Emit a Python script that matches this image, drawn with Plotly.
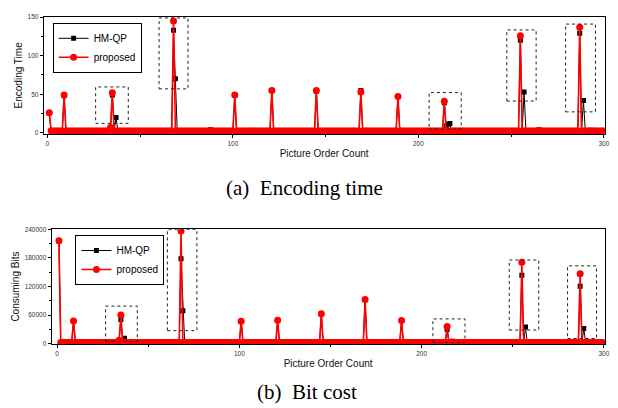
import plotly.graph_objects as go

# ---------------- data ----------------
poc = list(range(1, 301))

# (a) Encoding time
time_base_hm = 2.5
time_base_prop = 2.5
time_hm_poc = [1, 9, 35, 37, 68, 69, 88, 101, 121, 145, 169, 189, 214, 215, 216, 217, 255, 257, 265, 287, 289, 293]
time_hm_val = [26, 48, 49, 20, 133, 70, 4, 49, 55, 54, 55, 47, 39, 9, 11, 12, 120, 53, 4, 129, 42, 3.5]
time_prop_poc = [1, 9, 34, 35, 68, 101, 121, 145, 169, 189, 214, 255, 287]
time_prop_val = [26, 49, 7, 52, 145, 49, 55, 55, 53, 47, 41, 126, 137]

# (b) Bit cost
bits_base_hm = 2500
bits_base_prop = 2500
bits_hm_poc = [1, 9, 35, 37, 68, 69, 101, 121, 145, 169, 189, 214, 217, 255, 257, 287, 289]
bits_hm_val = [216000, 48000, 51000, 11700, 178000, 69000, 47000, 49000, 63000, 92600, 48800, 30000, 5500, 143400, 35000, 120700, 32300]
bits_prop_poc = [1, 9, 34, 35, 68, 101, 121, 145, 169, 189, 214, 255, 287]
bits_prop_val = [216000, 48000, 7600, 60500, 236600, 47000, 49400, 63200, 92600, 48800, 36400, 170800, 146800]

# highlighted regions: (x0, x1, y0, y1)
time_boxes = [(26, 43.6, 12.3, 59.5), (60.2, 75.8, 57, 149), (205.8, 223.1, 4.7, 52.2),
              (247.7, 263.5, 41.2, 133.4), (279.4, 295.5, 27.2, 141)]
bits_boxes = [(26.6, 44, 4900, 79000), (60.5, 76.7, 27500, 239400), (206.2, 223.8, 2800, 52200),
              (248.1, 264.3, 28800, 175600), (280.1, 296, 11100, 163300)]

series_names = ["HM-QP", "proposed"]


def build(base, pocs, vals):
    d = dict(zip(pocs, vals))
    return [d.get(p, base) for p in poc]


time_hm = build(time_base_hm, time_hm_poc, time_hm_val)
time_prop = build(time_base_prop, time_prop_poc, time_prop_val)
bits_hm = build(bits_base_hm, bits_hm_poc, bits_hm_val)
bits_prop = build(bits_base_prop, bits_prop_poc, bits_prop_val)

# ---------------- figure ----------------
# the page body has an 8px default margin, so the figure is 8px smaller
OFF = 8
W, H = 618 - OFF, 408 - OFF


def fx(px):
    return (px - OFF) / W


def fy(py):
    return 1 - (py - OFF) / H


fig = go.Figure()

hm_style = dict(mode="lines+markers", line=dict(color="black", width=1),
                marker=dict(symbol="square", size=5, color="black"))
pr_style = dict(mode="lines+markers", line=dict(color="#ff0000", width=1.6),
                marker=dict(symbol="circle", size=7, color="#ff0000"))

fig.add_trace(go.Scatter(x=poc, y=time_hm, name=series_names[0], xaxis="x", yaxis="y",
                         legend="legend", **hm_style))
fig.add_trace(go.Scatter(x=poc, y=time_prop, name=series_names[1], xaxis="x", yaxis="y",
                         legend="legend", **pr_style))
fig.add_trace(go.Scatter(x=poc, y=bits_hm, name=series_names[0], xaxis="x2", yaxis="y2",
                         legend="legend2", **hm_style))
fig.add_trace(go.Scatter(x=poc, y=bits_prop, name=series_names[1], xaxis="x2", yaxis="y2",
                         legend="legend2", **pr_style))

shapes = []
for (x0, x1, y0, y1) in time_boxes:
    shapes.append(dict(type="rect", xref="x", yref="y", x0=x0, x1=x1, y0=y0, y1=y1,
                       line=dict(color="#222", width=1, dash="dot")))
for (x0, x1, y0, y1) in bits_boxes:
    shapes.append(dict(type="rect", xref="x2", yref="y2", x0=x0, x1=x1, y0=y0, y1=y1,
                       line=dict(color="#222", width=1, dash="dot")))

axis_font = dict(family="Liberation Sans, Arial", size=10, color="#111")
tick_font = dict(family="Liberation Sans, Arial", size=6.5, color="#333")

common_axis = dict(showline=True, linecolor="black", linewidth=1, mirror=True,
                   ticks="outside", ticklen=3, tickcolor="black", tickwidth=1,
                   showgrid=False, zeroline=False, tickfont=tick_font)

legend_style = dict(xanchor="left", yanchor="top",
                    bordercolor="black", borderwidth=1, bgcolor="white",
                    font=dict(family="Liberation Sans, Arial", size=10, color="black"),
                    tracegroupgap=0, itemwidth=30)

fig.update_layout(
    width=W, height=H,
    margin=dict(l=0, r=0, t=0, b=0),
    paper_bgcolor="white", plot_bgcolor="white",
    font=dict(family="Liberation Sans, Arial", color="black"),
    xaxis=dict(domain=[fx(44), fx(609.5)], range=[-2, 300.4], anchor="y",
               tickvals=[0, 100, 200, 300],
               minor=dict(tickvals=[50, 150, 250], ticks="outside", ticklen=2, tickcolor="black"),
               title=dict(text="Picture Order Count", font=axis_font, standoff=4),
               **common_axis),
    yaxis=dict(domain=[fy(132), fy(13)], range=[-1.3, 150.3], anchor="x",
               tickvals=[0, 50, 100, 150],
               minor=dict(tickvals=[25, 75, 125], ticks="outside", ticklen=2, tickcolor="black"),
               title=dict(text="Encoding Time", font=axis_font, standoff=3),
               **common_axis),
    xaxis2=dict(domain=[fx(52), fx(609.5)], range=[-3, 300.4], anchor="y2",
                tickvals=[0, 100, 200, 300],
                minor=dict(tickvals=[50, 150, 250], ticks="outside", ticklen=2, tickcolor="black"),
                title=dict(text="Picture Order Count", font=axis_font, standoff=4),
                **common_axis),
    yaxis2=dict(domain=[fy(346), fy(229)], range=[-600, 240300], anchor="x2",
                tickvals=[0, 60000, 120000, 180000, 240000],
                ticktext=["0", "60000", "120000", "180000", "240000"],
                minor=dict(tickvals=[30000, 90000, 150000, 210000], ticks="outside", ticklen=2,
                           tickcolor="black"),
                title=dict(text="Consuming Bits", font=axis_font, standoff=3),
                **common_axis),
    legend=dict(x=fx(53), y=fy(19), **legend_style),
    legend2=dict(x=fx(76), y=fy(235), **legend_style),
    shapes=shapes,
    showlegend=True,
    annotations=[
        dict(text="(a)\u00a0\u00a0Encoding time", xref="paper", yref="paper",
             x=fx(307), y=fy(187), showarrow=False, xanchor="center", yanchor="middle",
             font=dict(family="Liberation Serif, Times New Roman", size=21, color="black")),
        dict(text="(b)\u00a0\u00a0Bit cost", xref="paper", yref="paper",
             x=fx(309), y=fy(395), showarrow=False, xanchor="center", yanchor="middle",
             font=dict(family="Liberation Serif, Times New Roman", size=21, color="black")),
    ],
)

fig.write_html("out.html")
